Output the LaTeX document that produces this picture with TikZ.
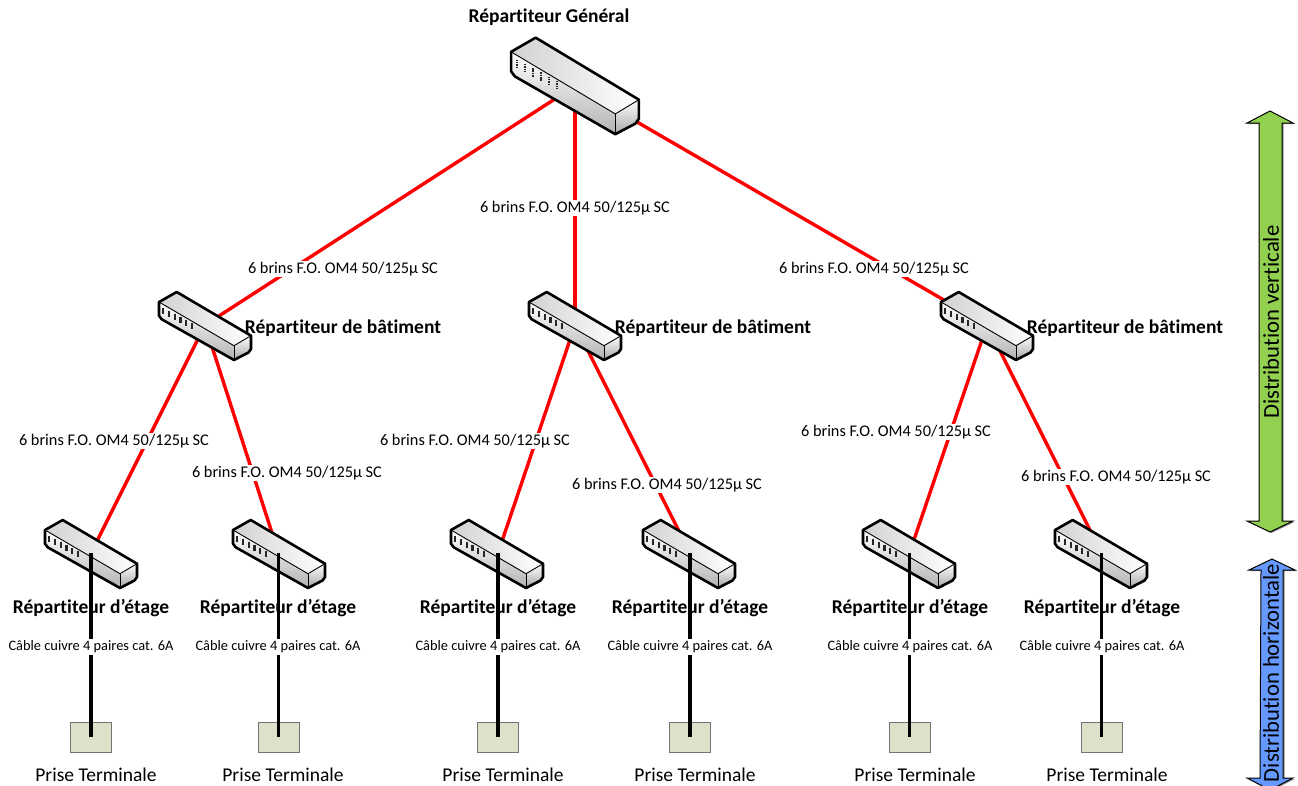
\documentclass[tikz,border=0pt]{standalone}
\usepackage{fontspec}
\setmainfont[Ligatures=NoCommon]{Carlito}
\definecolor{termfill}{HTML}{DDE1C9}
\definecolor{vertgreen}{HTML}{92D050}
\definecolor{horizblue}{HTML}{6699FF}
\definecolor{fibre}{HTML}{FF0000}
\tikzset{
  fibreline/.style={draw=fibre,line width=3.4pt},
  copperline/.style={draw=black,line width=3.2pt},
  hub/.style={inner sep=0pt,minimum size=0pt},
  cablelabel/.style={fill=white,inner sep=1.5pt,font=\fontsize{16.3}{18}\selectfont},
  copperlabel/.style={fill=white,inner sep=1.5pt,font=\fontsize{14.4}{16}\selectfont},
  titlelabel/.style={inner sep=0pt,font=\fontsize{19.5}{21}\selectfont\bfseries},
  termlabel/.style={inner sep=0pt,font=\fontsize{19.5}{21}\selectfont},
  terminal/.style={draw=black!55,fill=termfill,line width=1pt,minimum width=41pt,minimum height=30pt,inner sep=0pt},
  bigarrow/.style={draw=black,line width=1pt},
  arrowshadow/.style={fill=black!45,draw=none},
  sidelabel/.style={inner sep=0pt,rotate=90,font=\fontsize{22.7}{24}\selectfont}
}
% device drawing: #1 centre, #2 x scale, #3 y scale, #4 port dash style
\newcommand{\devicebody}[4]{%
\begin{scope}[shift={(#1)},xscale=#2,yscale=#3]
  \shade[left color=black!18,right color=white] (-46,-23) -- (-28.3,-33) -- (46,10.7) -- (29,20.7) -- cycle;
  \shade[left color=white,right color=black!30,shading angle=0] (-46,-23) -- (29,20.7) -- (29,35) -- (-43.3,-5.7) -- (-46,-9.3) -- cycle;
  \shade[top color=white,bottom color=black!35] (29,20.7) -- (46,10.7) -- (46,24) -- (43.5,27.5) -- (29,35) -- cycle;
  \draw[line width=0.9pt] (-46,-23) -- (29,20.7) -- (46,10.7);
  \draw[line width=0.9pt] (29,20.7) -- (29,35);
  \draw[line width=2.6pt,line join=round] (-46,-23) -- (-28.3,-33) -- (46,10.7) -- (46,24) -- (43.5,27.5) -- (29,35) -- (-43.3,-5.7) -- (-46,-9.3) -- cycle;
  \foreach \i in {0,1,2,3,4,5}{
    \draw[line width=2.2pt,black!85,#4] ({-41.7+\i*5.7},{-17.5+\i*3}) -- ({-41.7+\i*5.7},{-11.5+\i*3});
  }
\end{scope}}
\begin{document}
\begin{tikzpicture}[x=1pt,y=-1pt]
\useasboundingbox (0,0) rectangle (1298,785);
% hubs
\node[hub] (rg) at (575,86) {};
\node[hub] (b1) at (205,325) {};
\node[hub] (b2) at (575,325) {};
\node[hub] (b3) at (987,325) {};
\node[hub] (e1) at (91,553) {};
\node[hub] (e2) at (278.5,553) {};
\node[hub] (e3) at (498,553) {};
\node[hub] (e4) at (690,553) {};
\node[hub] (e5) at (909.5,553) {};
\node[hub] (e6) at (1101.5,553) {};
% fibre
\draw[fibreline] (rg) -- (b1);
\draw[fibreline] (rg) -- (b2);
\draw[fibreline] (rg) -- (b3);
\draw[fibreline] (b1) -- (e1);
\draw[fibreline] (b1) -- (e2);
\draw[fibreline] (b2) -- (e3);
\draw[fibreline] (b2) -- (e4);
\draw[fibreline] (b3) -- (e5);
\draw[fibreline] (b3) -- (e6);
% devices
\devicebody{575,84.5}{1.39}{1.42}{dash pattern=on 1.5pt off 0.8pt}
\devicebody{205,325}{1}{1}{solid}
\devicebody{575,325}{1}{1}{solid}
\devicebody{987,325}{1}{1}{solid}
\devicebody{91,553}{1}{1}{solid}
\devicebody{279,553}{1}{1}{solid}
\devicebody{497,553}{1}{1}{solid}
\devicebody{689,553}{1}{1}{solid}
\devicebody{909,553}{1}{1}{solid}
\devicebody{1101,553}{1}{1}{solid}
% fibre labels
\foreach \n/\x/\y in {l1/343/269,l2/575/208,l3/874/269,l4/114/441,l5/287/473,l6/475/441,l7/667/485,l8/896/432,l9/1116/477}{
  \node[cablelabel] (\n) at (\x,\y) {6 brins F.O. OM4 50/125µ SC};
}
% titles
\node[titlelabel] (tg) at (549,17) {Répartiteur Général};
\foreach \n/\x in {tb1/343,tb2/713,tb3/1125}{
  \node[titlelabel] (\n) at (\x,328.5) {Répartiteur de bâtiment};
}
\foreach \n/\x in {te1/91,te2/278,te3/498,te4/690,te5/910,te6/1102}{
  \node[titlelabel] (\n) at (\x,608.5) {Répartiteur d’étage};
}
% terminals
\foreach \n/\x in {p1/91,p2/278.5,p3/498,p4/690,p5/909.5,p6/1101.5}{
  \node[terminal] (\n) at (\x,737) {};
}
% copper
\draw[copperline] (e1.center) -- (p1.center);
\draw[copperline] (e2.center) -- (p2.center);
\draw[copperline] (e3.center) -- (p3.center);
\draw[copperline] (e4.center) -- (p4.center);
\draw[copperline] (e5.center) -- (p5.center);
\draw[copperline] (e6.center) -- (p6.center);
\foreach \n/\x in {c1/91,c2/278,c3/498,c4/690,c5/910,c6/1102}{
  \node[copperlabel] (\n) at (\x,647) {Câble cuivre 4 paires cat. 6A};
}
\foreach \n/\x in {t1/96,t2/283,t3/503,t4/695,t5/915,t6/1107}{
  \node[termlabel] (\n) at (\x,774.5) {Prise Terminale};
}
% side arrows
\path[arrowshadow] (1271.5,112) -- (1294.5,124) -- (1283.5,124) -- (1283.5,522) -- (1294.5,522) -- (1271.5,533) -- (1248.5,522) -- (1260.5,522) -- (1260.5,124) -- (1248.5,124) -- cycle;
\draw[bigarrow,fill=vertgreen] (1270,111) -- (1293,123) -- (1282,123) -- (1282,521) -- (1293,521) -- (1270,532) -- (1247,521) -- (1259,521) -- (1259,123) -- (1247,123) -- cycle;
\path[arrowshadow] (1273.5,560) -- (1296.5,571) -- (1284.5,571) -- (1284.5,779) -- (1294.5,779) -- (1271.5,791) -- (1248.5,779) -- (1261.5,779) -- (1262.5,571) -- (1250.5,571) -- cycle;
\draw[bigarrow,fill=horizblue] (1272,559) -- (1295,570) -- (1283,570) -- (1283,778) -- (1293,778) -- (1270,790) -- (1247,778) -- (1260,778) -- (1261,570) -- (1249,570) -- cycle;
\node[sidelabel] (dv) at (1271,322) {Distribution verticale};
\node[sidelabel] (dh) at (1271,673) {Distribution horizontale};
\end{tikzpicture}
\end{document}
